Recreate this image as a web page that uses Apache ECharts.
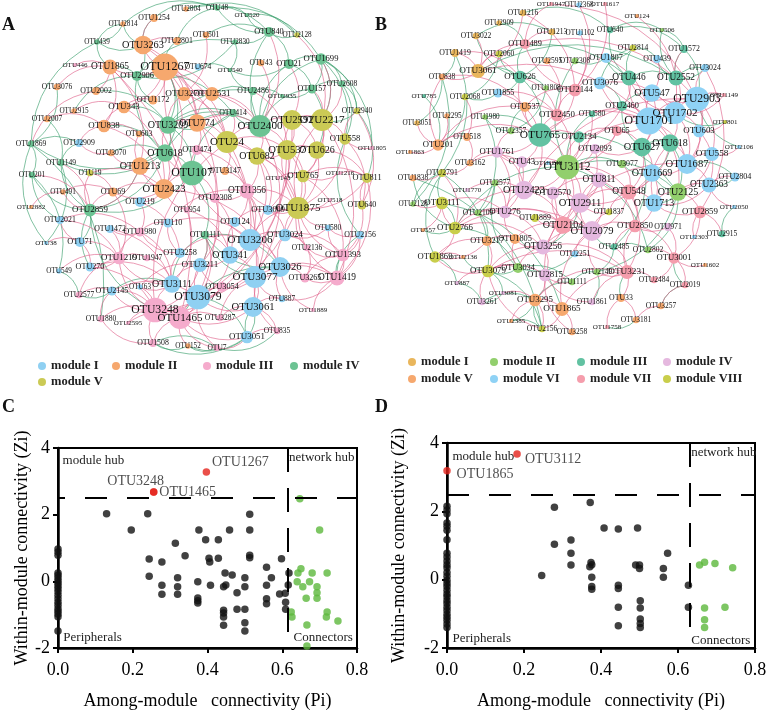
<!DOCTYPE html>
<html><head><meta charset="utf-8">
<script src="https://cdn.jsdelivr.net/npm/echarts@6/dist/echarts.min.js"></script>
<style>html,body{margin:0;padding:0;background:#fff}#c{width:767px;height:712px}</style>
</head><body><div id="c"></div>
<script>
// ---------------- DATA ----------------
const modulesA = ['module I', 'module II', 'module III', 'module IV', 'module V'];
const modulesB = ['module I', 'module II', 'module III', 'module IV', 'module V', 'module VI', 'module VII', 'module VIII'];

// network A nodes: [OTU id, layout x, layout y, degree, module]
const nodesA = [
['2804',186,9,2,2],['1254',154,18,4,2],['2814',123,24,2,2],['439',97,42,2,4],['3263',143,45,13,2],
['2801',177,41,4,2],['446',75,65,1,3],['1865',110,67,10,2],['1267',165,67,20,2],['2906',137,76,6,4],
['3076',57,87,3,2],['2002',96,91,4,2],['3270',184,94,9,2],['1172',153,100,5,2],['2915',74,111,2,2],
['343',124,107,8,2],['2007',47,119,3,2],['838',104,126,8,2],['3209',168,125,12,4],['603',139,134,3,2],
['1869',31,144,3,4],['2909',79,143,4,1],['3070',111,153,3,2],['618',165,153,12,4],['1149',61,163,3,4],
['1213',140,166,12,2],['48',217,8,2,4],['520',247,15,1,4],['501',206,35,3,2],['2830',235,42,2,4],
['840',269,32,6,4],['2128',297,35,2,5],['674',198,67,3,1],['540',230,70,1,4],['43',261,63,3,2],
['21',289,64,6,4],['1699',321,59,7,4],['2608',342,84,3,4],['157',312,89,5,4],['2486',253,91,4,4],
['2935',282,96,1,4],['2531',212,94,9,2],['414',233,113,4,4],['2940',357,111,3,5],['2400',260,126,16,4],
['2592',292,120,14,5],['2217',322,120,16,5],['774',197,123,12,2],['558',345,139,7,5],['24',227,142,16,5],
['474',197,150,6,3],['537',287,150,14,5],['626',317,150,12,5],['682',257,156,12,5],['1805',372,148,1,3],
['201',32,175,3,4],['19',90,173,3,5],['491',63,192,2,2],['69',113,192,5,2],['2423',164,189,14,2],
['2882',31,207,1,2],['219',140,202,6,1],['2859',90,210,8,4],['2021',60,220,4,1],['1472',110,229,4,1],
['1980',140,232,5,3],['110',168,223,5,1],['38',46,243,1,1],['71',80,242,6,1],['3258',180,253,6,1],
['1219',119,258,8,3],['1947',147,258,3,3],['549',59,271,2,1],['270',90,267,5,1],['3111',172,284,12,1],
['63',140,287,2,1],['2145',112,291,5,1],['2577',79,295,3,3],['3248',155,310,18,3],['1465',180,318,16,3],
['1880',101,319,3,3],['2595',128,323,1,3],['107',192,173,18,4],['3147',225,171,4,2],['143',278,178,1,3],
['765',303,176,8,5],['1216',340,173,1,3],['811',367,178,6,5],['1356',247,191,10,3],['2308',215,198,6,3],
['518',330,200,1,3],['640',362,205,5,5],['954',187,210,3,3],['3009',268,210,6,1],['1875',298,208,16,5],
['124',235,222,6,1],['580',328,228,3,1],['2156',360,235,4,1],['1111',205,235,4,4],['3206',250,240,16,1],
['3024',285,235,8,1],['2136',307,248,3,3],['1393',343,255,8,3],['341',230,255,12,1],['3211',200,265,9,1],
['3026',280,267,14,1],['3077',255,277,16,1],['3265',305,278,5,3],['1419',337,278,10,3],['3054',222,287,6,3],
['3079',198,297,18,1],['887',282,299,3,1],['3061',253,307,14,1],['1889',313,310,1,3],['3287',220,318,3,3],
['835',277,331,3,3],['1508',153,343,4,3],['152',188,346,2,2],['7',217,348,3,3],['3051',247,337,8,1]
];
const posEdgesA = ('1267-3263 1267-1865 1267-3270 1267-343 1267-2531 1267-774 1267-1172 3263-1254 3263-2801 1865-2002 ' +
'1865-838 838-343 838-603 343-1172 3270-2531 774-2531 774-24 774-474 24-682 24-2400 2400-2592 2592-2217 2217-558 ' +
'537-626 537-682 537-1875 626-1875 626-765 765-811 1875-3009 1875-1356 1356-2308 1356-124 1356-3206 3206-341 ' +
'3206-3024 3206-3077 3026-3077 3026-3024 3026-1419 3026-3265 3077-3061 3077-3054 3061-3079 3079-3211 3079-3248 ' +
'3248-1465 1465-3054 1465-3287 3248-1219 3248-2145 3248-3111 3111-3211 3111-3258 3111-63 1219-270 1219-1947 ' +
'1219-1980 1980-1472 1980-110 2423-219 2423-1213 2423-69 2423-107 107-618 107-474 107-954 107-2308 1393-1419 ' +
'1393-2136 1393-580 1419-887 3061-887 3061-835 3051-835 3051-7 3051-1465 1508-3248 1508-1880 152-1465 7-1465 ' +
'2577-1219 2577-2145 2595-3248 1880-2145 71-2021 71-270 71-1219 2859-19 2859-491 2859-69 1213-3070 1213-603 ' +
'618-3209 618-2423 3209-774 3209-3270 1875-2217 1875-2592 558-2940 558-640 640-811 2156-1393 2156-580 3024-2136 ' +
'341-124 341-3211 3258-110 3258-3206 2136-3265 1889-1419 3287-3061 1216-765 518-1875 143-765 1805-558 2128-2217 ' +
'840-2400 43-2400 21-2592 157-2217 1699-2217 2608-2217 2486-537 414-24 682-1356 537-3009 24-3147 1111-341 ' +
'1111-3211 954-2423 474-2308 124-3009 3054-3079 3024-1875 1947-3111 63-3211 1419-1875 3265-1393 626-811 ' +
'1869-2002 2909-838 3076-1865 446-1865 2007-838 2915-343 3070-2909 1149-2859 201-2859 2882-491 3248-24 ' +
'1267-3079 3263-3061 1865-1465 2400-3077 2217-1419 1875-3248 3206-1267 537-3079 2423-3026 774-3206 2592-1465 ' +
'219-3258 110-3206 69-1219 19-2423 3147-1356 682-3206 765-1393 811-1419 2940-640 1216-811 580-3024 887-3026 ' +
'3054-3211 2308-3211 954-3111 1111-3079 2145-3079 270-3111 1472-3111 2021-1980 1213-2859 3270-2400 501-3270 ' +
'1267-2423 1267-24 3263-774 1865-1213 343-2423 838-2423 3270-24 2531-2400 774-2400 24-537 24-1875 2400-537 ' +
'2400-682 2592-537 2592-626 2217-626 2217-765 537-765 682-1875 682-3009 1356-1875 1356-3077 3206-3026 3206-1875 ' +
'341-3077 341-3079 3211-3248 3077-1419 3061-1465 3079-1465 3054-3248 3111-1219 3258-1980 1980-3111 110-1356 ' +
'124-3206 2308-341 954-341 474-1356 3009-3024 3024-1393 1393-1875 1419-3265 765-1875 811-1875 558-1875 640-1393 ' +
'2156-1419 580-1875 2136-1875 887-3077 835-3077 1889-3026 3287-3077 7-3079 1508-1465 1880-3248 2595-1465 ' +
'63-3248 2145-3248 270-3248 549-1219 38-71 2021-1219 1472-1219 219-1980 69-2423 491-69 19-69').split(' ');
const negEdgesA = ('3263-2906 3263-439 3263-2814 1865-2906 1267-2906 1267-3209 1267-618 3209-618 3209-2400 2400-414 ' +
'2400-2486 2400-840 2400-21 2400-157 2400-1699 840-2830 840-48 840-520 21-1699 1699-2608 157-2935 21-540 2486-540 ' +
'618-1149 618-1869 618-2859 618-107 107-1111 107-2859 2859-201 2859-1149 1869-439 2906-2830 3209-414 1254-48 ' +
'2801-48 2814-439 1865-439 1213-618 3111-1111 2145-3111 3248-2859 3051-1508 3051-152 152-1508 7-152 3077-1111 ' +
'3026-1111 1419-2156 1699-2940 2608-2940 157-626 1699-558 2128-840 1869-201 2021-201 38-1869 549-2577 270-2859 ' +
'1465-3026 3079-3051 2002-3209 343-3209 838-618 3070-618 1172-2906 414-3209 2531-2486 501-840 674-540 2830-2906 ' +
'48-1699 2804-2128 1869-1880 201-549 1149-38 2940-811 3076-1869 2007-1149 2915-2906 3061-3051 835-7 1699-1805 ' +
'3263-1254 1267-2801 2906-414 3209-2486 618-414 107-414 2859-71 1869-2909 1149-2909 439-2814 2814-48 2804-840 ' +
'48-520 520-2128 2830-540 21-157 157-2608 2486-2935 1699-157 840-21 3209-107 618-2906 1213-2859 1111-3211 ' +
'2145-2577 3051-3061 1508-7 1111-3026 1419-1393 2156-558 1699-2217 2608-558 2940-2217').split(' ');

// network B nodes: [OTU id, layout x, layout y, degree, module]
const nodesB = [
['1947',551,4,1,7],['1216',523,13,3,1],['2909',499,23,2,1],['3022',476,36,3,1],['1213',552,32,3,1],
['1489',525,44,6,7],['1419',455,53,4,1],['2060',499,54,3,8],['3061',478,71,9,1],['2595',547,61,3,5],
['838',442,77,3,5],['626',520,77,8,3],['785',424,96,1,3],['2068',465,97,3,8],['1855',498,93,5,6],
['1808',546,88,2,2],['2144',575,90,8,7],['537',525,107,6,5],['2295',447,116,2,5],['3051',417,123,2,1],
['1980',485,117,2,2],['2450',557,115,8,7],['2357',511,131,3,2],['765',540,135,17,3],['2134',579,137,7,3],
['518',467,137,4,5],['201',438,145,7,5],['1863',410,152,1,5],['1761',497,152,7,4],['43',522,162,7,4],
['3162',470,163,3,5],['1248',548,163,1,6],['3112',567,167,18,2],['2368',579,5,2,6],['1617',605,4,1,7],
['124',637,16,1,5],['1102',580,33,2,6],['640',610,30,3,3],['506',662,30,1,2],['2814',633,48,3,8],
['1572',684,49,4,3],['1807',606,58,6,6],['439',657,59,4,6],['2308',575,61,3,2],['3024',705,68,4,6],
['446',629,78,10,3],['2552',676,78,10,3],['3076',600,83,8,6],['547',652,93,12,6],['2903',697,99,18,6],
['1149',724,95,1,7],['2460',622,106,6,3],['580',592,114,3,3],['1702',675,113,16,6],['1701',649,121,20,6],
['801',725,122,1,8],['65',617,131,6,7],['603',699,131,8,6],['2093',595,149,6,4],['627',642,147,13,3],
['618',670,143,12,3],['2106',739,147,1,6],['558',712,154,9,6],['3077',622,164,4,2],['1687',687,164,14,6],
['2791',442,173,4,8],['1838',413,178,3,5],['2577',495,183,3,2],['1770',467,190,1,4],['2423',524,190,13,4],
['2570',553,193,8,4],['2128',413,204,2,2],['3111',442,203,8,8],['2109',478,213,3,2],['276',505,212,8,4],
['1889',535,218,4,8],['2104',563,225,12,7],['557',423,230,1,5],['2766',455,228,8,8],['3217',487,241,6,5],
['1805',515,239,6,5],['3256',543,247,10,4],['1869',435,257,7,8],['2136',463,257,1,5],['3079',488,271,8,8],
['3034',518,268,6,2],['2815',545,275,8,4],['887',457,283,1,4],['3081',503,293,1,4],['3261',482,302,3,4],
['3295',535,300,8,5],['1865',562,309,9,5],['2385',511,321,1,5],['2156',542,329,3,8],['3258',572,332,3,5],
['1111',572,282,3,2],['2251',575,254,3,6],['1669',652,173,12,6],['2804',735,177,5,6],['811',599,180,10,4],
['2363',709,185,10,6],['548',629,192,10,7],['2125',678,192,12,2],['2911',580,203,14,4],['1713',654,203,12,6],
['2859',700,212,8,7],['2050',734,207,1,6],['1837',609,212,3,8],['2079',592,231,14,4],['2850',635,226,8,7],
['971',668,227,4,4],['2303',694,237,1,6],['2915',722,234,3,3],['2485',614,247,3,3],['2802',648,250,3,2],
['3001',674,258,7,7],['1602',705,265,1,5],['2149',597,272,3,2],['3231',627,272,9,7],['2484',654,280,3,7],
['2019',685,285,3,7],['1861',592,302,3,4],['33',621,298,4,5],['3257',661,306,3,5],['3181',636,320,3,5],
['1758',607,327,1,7]
];
const posEdgesB = ('1701-1702 1701-2903 1702-2903 1701-547 1701-65 1701-627 1701-618 1701-446 1702-603 1702-618 ' +
'2903-3024 2903-1149 2903-603 2903-558 1687-558 1687-1669 1687-2363 1669-548 1669-1713 548-2850 548-811 548-1713 ' +
'2125-2363 2125-2859 2859-3001 2859-2915 3001-2019 3001-2484 3231-2850 3231-2484 3231-33 3231-2149 2079-2911 ' +
'2079-3112 2079-1837 2079-2850 2911-811 2911-2104 2104-2570 2104-3256 2104-1889 3256-2815 3256-1805 2815-3295 ' +
'3295-1865 1865-3258 1865-2156 3079-2815 3079-3034 3079-1869 1869-2136 2766-3111 2766-1869 2766-276 276-2423 ' +
'2423-2570 2423-43 43-1761 1761-2357 765-2450 765-2134 765-3112 765-626 765-537 3112-2134 3112-811 3112-2423 ' +
'2450-2144 2144-1489 1489-1213 1489-1947 1216-3061 3022-3061 1419-3061 3061-2060 3061-838 201-518 201-1863 ' +
'201-3051 201-838 518-3162 3162-2791 2791-1838 3111-2128 3111-557 3217-1805 3217-3079 1805-276 2109-276 1770-2423 ' +
'2577-276 887-3079 3081-3295 3261-3079 2385-3295 1861-3231 33-3181 3181-3257 3257-2019 1758-33 2911-548 ' +
'1713-2125 2363-2804 603-2363 1602-3001 2303-2859 971-2850 627-2093 65-2093 2460-1701 580-1701 1807-1701 ' +
'3076-1702 2552-1702 446-2460 2552-1572 439-547 1617-2144 2368-2144 124-1702 1102-2144 1149-1702 2106-558 ' +
'801-603 2050-2363 3112-548 3112-2911 2104-2079 2570-2911 1889-2104 811-2079 1713-618 627-1669 618-1687 ' +
'2251-2079 1111-2815 3034-1805 2766-2423 3295-2156 3061-1701 1489-2903 765-1701 2423-2903 2104-1687 3112-1701 ' +
'1865-2079 3256-3231 2766-2079 201-765 3079-3231 1216-2144 1947-2903 3024-2859 2595-2450 537-2450 1855-765 ' +
'2134-65 2093-2911 43-3112 1248-3112 1761-2423 3162-43 2068-518 2295-201 811-2850 548-3231 2850-3001 1837-2911 ' +
'2485-2850 2149-2079 1861-2815 3258-2815 2156-3079 276-3256 2570-3256 3217-1869 2791-2766 ' +
'1701-2125 1701-1687 1702-1687 2903-1687 2903-547 1701-3076 1702-446 547-627 65-627 627-548 618-548 1669-2911 ' +
'1713-2850 548-2079 811-2911 3112-2104 3112-2570 2423-2104 276-2104 3256-2079 2815-2911 1805-2104 3034-3256 ' +
'3295-3231 1865-3231 3079-3256 2766-3256 1869-3217 3111-276 765-2423 765-43 765-1761 626-2450 2144-765 ' +
'2134-3112 2450-3112 537-2144 1855-2450 3061-1489 1419-626 201-537 838-537 3162-1761 1761-276 43-276 2570-811 ' +
'2093-3112 65-3112 580-3112 2460-2134 3077-548 1837-548 2485-3231 2802-3001 971-3001 2859-1713 2363-1713 ' +
'558-2125 603-1687').split(' ');
const negEdgesB = ('3061-626 626-1855 626-1808 626-765 626-3022 1213-626 2060-2068 1419-838 838-3051 785-201 2068-201 ' +
'1980-765 2357-537 3112-3077 3112-2308 3112-580 446-2552 446-640 446-2814 2552-1572 2552-439 2552-506 640-506 ' +
'1807-2308 3076-2460 627-618 627-2460 618-2125 2125-1713 2125-2802 2125-1669 2485-2079 2485-2802 2915-2050 ' +
'1669-3077 2911-3256 3111-2766 3111-2791 2766-3034 3034-3079 3034-1111 3079-2156 2156-3295 2766-1838 1869-887 ' +
'2128-2791 3079-3081 2109-3217 2577-2109 2149-1861 33-3231 3257-2019 2019-3001 2804-2363 1572-2903 3024-2552 ' +
'801-1702 2106-2903 1687-2804 3295-1111 3061-2552 1216-640 2060-446 3111-1865 2791-3079 1838-2156 3022-1213 ' +
'2909-1489 765-2125 2766-3112 1419-2791 838-2128 2814-1807 3076-2814 2460-547 3261-3295 2385-2156 3181-1758 ' +
'626-1489 626-2060 1855-2068 1808-2357 2357-1980 1980-2109 3112-2125 3112-2802 446-1807 640-1572 2814-439 ' +
'506-1572 2552-3024 618-1669 627-2485 2125-2149 2485-2149 3034-2577 1869-2791 2766-557 3079-2136 887-3261 ' +
'3081-3261 3295-2385 1111-2149 2251-3034').split(' ');

// panel C / D: [Pi, Zi]
const blackC = [[0.13,2.03],[0.196,1.54],[0.24,2.03],[0.244,0.67],[0.244,0.15],[0.278,0.58],[0.278,-0.12],[0.278,-0.39],
[0.314,1.14],[0.32,0.11],[0.32,-0.16],[0.32,-0.39],[0.34,0.77],[0.377,1.54],[0.374,-0.01],[0.374,-0.5],[0.374,-0.58],
[0.374,-0.65],[0.395,1.25],[0.404,0.69],[0.406,0.58],[0.408,-0.12],[0.429,1.25],[0.429,0.69],[0.459,1.54],[0.447,0.25],
[0.443,-0.16],[0.449,-0.11],[0.466,0.19],[0.443,-0.87],[0.443,-0.95],[0.443,-1.07],[0.443,-1.32],[0.479,-0.34],
[0.479,-0.84],[0.5,0.11],[0.5,-0.16],[0.5,-0.84],[0.5,-1.24],[0.5,-1.49],[0.513,2.01],[0.513,1.54],[0.513,0.78],
[0.513,0.71],[0.558,0.42],[0.558,-0.12],[0.558,-0.52],[0.558,-0.67],[0.571,0.11],[0.598,0.68],[0.593,-0.38],
[0.608,-0.36],[0.609,-0.63],[0.609,-0.84],[0.618,0.25],[0.616,-0.11]];
const zeroZiC = [0.97,0.88,0.78,0.25,0.18,0.1,0.02,-0.06,-0.14,-0.22,-0.31,-0.42,-0.52,-0.63,-0.72,-0.82,-0.9,-0.98,-1.06,-1.49];
const greenC = [[0.647,2.48],[0.70,1.54],[0.642,0.25],[0.65,0.38],[0.64,-0.01],[0.655,-0.16],[0.68,0.25],[0.673,-0.01],
[0.693,-0.16],[0.693,-0.34],[0.693,-0.51],[0.72,0.25],[0.664,-0.51],[0.624,-0.92],[0.626,-1.07],[0.72,-0.92],
[0.718,-1.07],[0.749,-1.19],[0.666,-1.31],[0.666,-1.94]];
const hubsC = [['OTU1267',0.397,3.28],['OTU3248',0.256,2.68],['OTU1465',0.256,2.68]];

const blackD = [[0.246,0.12],[0.279,2.12],[0.279,1.04],[0.322,1.16],[0.322,0.77],[0.322,0.43],[0.372,2.26],[0.374,0.5],
[0.371,0.38],[0.376,0.44],[0.376,0.07],[0.376,-0.2],[0.376,-0.28],[0.408,1.51],[0.445,1.48],[0.445,-0.16],[0.445,-0.26],
[0.445,-0.81],[0.445,-1.35],[0.495,1.51],[0.49,0.43],[0.5,0.43],[0.5,0.33],[0.502,-0.62],[0.502,-0.83],[0.502,-1.15],
[0.502,-1.28],[0.502,-1.4],[0.562,0.33],[0.562,0.07],[0.573,0.77],[0.627,-0.16],[0.627,-0.81]];
const zeroZiD = [2.15,2.04,1.93,1.66,1.56,1.45,1.17,0.77,0.66,0.55,0.44,0.35,0.21,0.1,-0.02,-0.11,-0.2,-0.31,-0.42,-0.5,
-0.61,-0.7,-0.81,-0.9,-1.01,-1.1,-1.19,-1.3,-1.4];
const greenD = [[0.656,0.43],[0.669,0.51],[0.696,0.47],[0.742,0.35],[0.669,-0.83],[0.669,-1.17],[0.669,-1.4],[0.722,-0.81]];
const hubsD = [['OTU1865',0.0,3.19],['OTU3112',0.182,3.68]];

const ziThreshold = 2.5;
const piThresholdC = 0.615, piThresholdD = 0.63;
const xTicks = [0, 0.2, 0.4, 0.6, 0.8];

// ---------------- STYLE ----------------
const SERIF = 'Liberation Serif, Times New Roman, serif';
const colA = ['#8fd0f2', '#f6a86e', '#f5abcc', '#6cc393', '#cbca55'];
const colB = ['#e9b65c', '#92cf6d', '#62c2a2', '#e5b8df', '#f6a86e', '#8fd2f5', '#f59dac', '#c9ce4b'];
const POS = '#e0628a', NEG = '#3a9f6c';
const sizeOf = d => 3 + 1.2 * d;

function graphSeries(nodes, pos, neg, prefix, modules, cols, axisIdx) {
  const ids = new Set(nodes.map(n => n[0]));
  const data = nodes.map(n => {
    const s = sizeOf(n[3]);
    return { name: 'OTU' + n[0], value: [n[1], n[2]], category: n[4] - 1, symbolSize: s,
      label: { fontSize: +(6 + 0.23 * s).toFixed(1) } };
  });
  const mk = (list, color) => list.map(e => e.split('-'))
    .filter(p => ids.has(p[0]) && ids.has(p[1]))
    .map(p => ({ source: 'OTU' + p[0], target: 'OTU' + p[1], lineStyle: { color } }));
  return {
    type: 'graph', coordinateSystem: 'cartesian2d', xAxisIndex: axisIdx, yAxisIndex: axisIdx,
    silent: true, symbol: 'circle',
    categories: modules.map((m, i) => ({ name: prefix + m, itemStyle: { color: cols[i] } })),
    data,
    links: mk(neg, NEG).concat(mk(pos, POS)),
    edgeSymbol: ['none', 'none'],
    lineStyle: { width: 0.75, opacity: 0.85, curveness: 0.3 },
    itemStyle: { borderWidth: 0 },
    label: { show: true, position: 'inside', color: '#111', fontFamily: SERIF, formatter: '{b}' },
    emphasis: { disabled: true }
  };
}

function scatterAxes(gi, gapY) {
  const common = {
    gridIndex: gi, type: 'value', splitLine: { show: false },
    axisLine: { show: true, onZero: false, lineStyle: { color: '#000', width: 2.5 } },
    axisTick: { show: true, length: 5, lineStyle: { color: '#000', width: 2 } },
    nameLocation: 'middle',
    nameTextStyle: { fontSize: 18, fontFamily: SERIF, color: '#000' }
  };
  return {
    x: Object.assign({}, common, { min: xTicks[0], max: xTicks[xTicks.length - 1], interval: 0.2,
      name: 'Among-module   connectivity (Pi)', nameGap: 44,
      axisLabel: { formatter: v => v.toFixed(1), fontSize: 18, fontFamily: SERIF, color: '#000', margin: 13 } }),
    y: Object.assign({}, common, { min: -2, max: 4, interval: 2,
      name: 'Within-module connectivity (Zi)', nameGap: gapY,
      axisLabel: { fontSize: 18, fontFamily: SERIF, color: '#000', margin: 8 } })
  };
}

function scatterSeries(gi, black, zero, green, hubs, offsets, piT, vEnd, dashOffset, texts) {
  const blk = black.concat(zero.map(z => [0, z]));
  const txtStyle = { show: true, position: 'right', distance: 0, color: '#222', fontSize: 13, fontFamily: SERIF, formatter: '{b}' };
  return [
    { type: 'scatter', xAxisIndex: gi, yAxisIndex: gi, data: blk, symbolSize: 7.5, itemStyle: { color: '#111' }, silent: true,
      markLine: { silent: true, symbol: ['none', 'none'], label: { show: false },
        lineStyle: { color: '#000', width: 2, type: [22, 20], dashOffset },
        data: [ { yAxis: ziThreshold },
          [ { coord: [piT, 4], lineStyle: { type: [24, 16], dashOffset: 0 } }, { coord: [piT, vEnd] } ] ] },
      markPoint: { silent: true, symbol: 'circle', symbolSize: 1, itemStyle: { color: 'rgba(0,0,0,0)' },
        label: txtStyle,
        data: texts.map(t => ({ name: t[0], coord: [t[1], t[2]] })) } },
    { type: 'scatter', xAxisIndex: gi, yAxisIndex: gi, data: green, symbolSize: 7.5, itemStyle: { color: '#5cb83c' }, silent: true },
    { type: 'scatter', xAxisIndex: gi, yAxisIndex: gi, symbolSize: 7.5, itemStyle: { color: '#e5231c' }, silent: true, z: 5,
      label: { show: true, position: 'inside', formatter: '{b}', color: '#222', fontSize: 14, fontFamily: SERIF },
      data: hubs.map((h, i) => ({ name: h[0], value: [h[1], h[2]], label: { offset: offsets[i] } })) }
  ];
}

const axC = scatterAxes(2, 26), axD = scatterAxes(3, 39);
const legendBase = { orient: 'vertical', icon: 'circle', itemWidth: 8, itemHeight: 8, padding: 0, selectedMode: false,
  formatter: n => n.slice(2),
  textStyle: { fontFamily: SERIF, fontWeight: 'bold', fontSize: 12.5, color: '#222', lineHeight: 14 } };
const lg = (names, left, top, gap) => Object.assign({}, legendBase, { data: names, left, top, itemGap: gap });
const titleStyle = { fontFamily: SERIF, fontWeight: 'bold', fontSize: 18, color: '#111' };
const ttl = (t, left, top) => ({ text: t, left, top, padding: 0, textStyle: titleStyle });

const option = {
  animation: false,
  backgroundColor: '#fff',
  title: [ttl('A', 2, 16), ttl('B', 375, 16), ttl('C', 2, 398), ttl('D', 375, 398)],
  legend: [
    lg(['A:module I', 'A:module V'], 38, 359, 2), lg(['A:module II'], 112, 359, 2),
    lg(['A:module III'], 203, 359, 2), lg(['A:module IV'], 290, 359, 2),
    lg(['B:module I', 'B:module V'], 408, 355, 3), lg(['B:module II', 'B:module VI'], 490, 355, 3),
    lg(['B:module III', 'B:module VII'], 577, 355, 3), lg(['B:module IV', 'B:module VIII'], 663, 355, 3)
  ],
  grid: [
    { left: 0, top: 0, width: 385, height: 350, outerBoundsMode: 'none' },
    { left: 385, top: 0, width: 382, height: 350, outerBoundsMode: 'none' },
    { left: 58, top: 448, width: 299, height: 200, show: true, borderColor: '#000', borderWidth: 2, outerBoundsMode: 'none' },
    { left: 447, top: 443, width: 308, height: 205, show: true, borderColor: '#000', borderWidth: 2, outerBoundsMode: 'none' }
  ],
  xAxis: [
    { gridIndex: 0, type: 'value', min: 0, max: 385, show: false },
    { gridIndex: 1, type: 'value', min: 385, max: 767, show: false },
    axC.x, axD.x
  ],
  yAxis: [
    { gridIndex: 0, type: 'value', min: 0, max: 350, inverse: true, show: false },
    { gridIndex: 1, type: 'value', min: 0, max: 350, inverse: true, show: false },
    axC.y, axD.y
  ],
  series: [
    graphSeries(nodesA, posEdgesA, negEdgesA, 'A:', modulesA, colA, 0),
    graphSeries(nodesB, posEdgesB, negEdgesB, 'B:', modulesB, colB, 1)
  ].concat(
    scatterSeries(2, blackC, zeroZiC, greenC, hubsC, [[34, -10], [-18, -11], [34, 0]], piThresholdC, -1.65, 15,
      [['module hub', 0.011, 3.62], ['network hub', 0.617, 3.7], ['Peripherals', 0.013, -1.7], ['Connectors', 0.629, -1.7]]),
    scatterSeries(3, blackD, zeroZiD, greenD, hubsD, [[38, 4], [36, 5]], piThresholdD, -1.48, 0,
      [['module hub', 0.013, 3.6], ['network hub', 0.633, 3.71], ['Peripherals', 0.013, -1.71], ['Connectors', 0.633, -1.77]])
  )
};
const chart = echarts.init(document.getElementById('c'), null, { renderer: 'canvas' });
chart.setOption(option);
</script></body></html>
